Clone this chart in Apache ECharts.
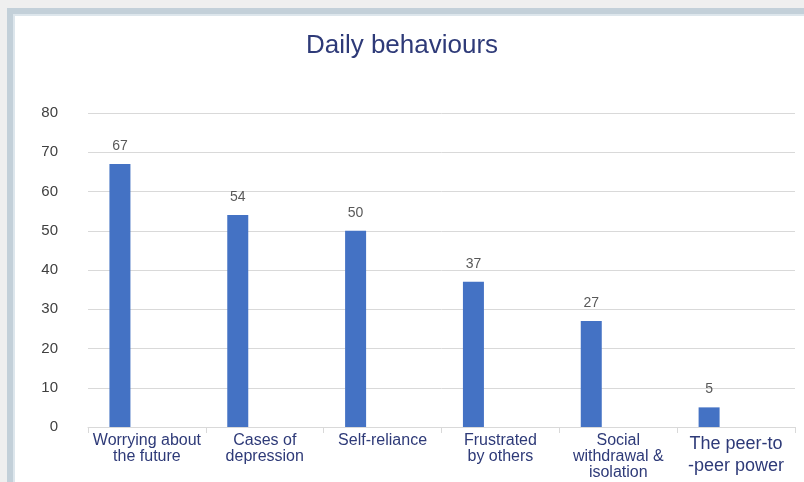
<!DOCTYPE html>
<html>
<head>
<meta charset="utf-8">
<script src="https://cdn.jsdelivr.net/npm/echarts@6/dist/echarts.min.js"></script>
<style>
  html, body { margin: 0; padding: 0; background: #efefef; }
  #main { width: 804px; height: 482px; }
</style>
</head>
<body>
<div id="main"></div>
<script>
// 数据
var categories = ['Worrying about\nthe future', 'Cases of\ndepression', 'Self-reliance',
                  'Frustrated\nby others', 'Social\nwithdrawal &\nisolation', 'The peer-to\n-peer power'];
var values = [67, 54, 50, 37, 27, 5];
var yTicks = [0, 10, 20, 30, 40, 50, 60, 70, 80];

var chart = echarts.init(document.getElementById('main'));

var option = {
    backgroundColor: '#efefef',
    animation: false,
    title: {
        text: 'Daily behaviours',
        left: 'center',
        top: 28,
        textStyle: {
            fontFamily: 'Liberation Sans, Arial, sans-serif',
            fontSize: 26,
            fontWeight: 'normal',
            color: '#2e3a78'
        }
    },
    // 外框
    graphic: [
        { type: 'rect', z: -10, shape: { x: 7, y: 8, width: 800, height: 480 }, style: { fill: '#c3d0d9' } },
        { type: 'rect', z: -9, shape: { x: 13, y: 14, width: 800, height: 480 }, style: { fill: '#dde6ec' } },
        { type: 'rect', z: -8, shape: { x: 15, y: 16, width: 800, height: 480 }, style: { fill: '#ffffff' } }
    ],
    grid: {
        left: 88,
        right: 9,
        top: 113,
        bottom: 55
    },
    xAxis: {
        type: 'category',
        data: categories,
        axisLine: { lineStyle: { color: '#d9d9d9', width: 1 } },
        axisTick: { show: true, length: 6, lineStyle: { color: '#d9d9d9' } },
        axisLabel: {
            interval: 0,
            margin: 6,
            color: '#2e3a78',
            fontFamily: 'Liberation Sans, Arial, sans-serif',
            fontSize: 16,
            lineHeight: 16,
            formatter: function (v, i) {
                if (i === 5) {
                    return v.split('\n').map(function (s) { return '{big|' + s + '}'; }).join('\n');
                }
                return v;
            },
            rich: {
                big: { fontSize: 18, lineHeight: 22, color: '#2e3a78', fontFamily: 'Liberation Sans, Arial, sans-serif' }
            }
        }
    },
    yAxis: {
        type: 'value',
        min: yTicks[0],
        max: yTicks[yTicks.length - 1],
        interval: 10,
        axisLine: { show: false },
        axisTick: { show: false },
        axisLabel: {
            margin: 30,
            color: '#404040',
            fontFamily: 'Liberation Sans, Arial, sans-serif',
            fontSize: 15
        },
        splitLine: { lineStyle: { color: '#d9d9d9' } }
    },
    series: [
        {
            name: 'Daily behaviours',
            type: 'bar',
            data: values,
            barWidth: 21,
            barGap: '157%',
            itemStyle: { color: '#4472c4' },
            label: {
                show: true,
                position: 'top',
                distance: 11,
                color: '#595959',
                fontFamily: 'Liberation Sans, Arial, sans-serif',
                fontSize: 14
            }
        },
        {
            name: 'blank',
            type: 'bar',
            data: values.map(function () { return null; }),
            barWidth: 21
        }
    ]
};

chart.setOption(option);
</script>
</body>
</html>
